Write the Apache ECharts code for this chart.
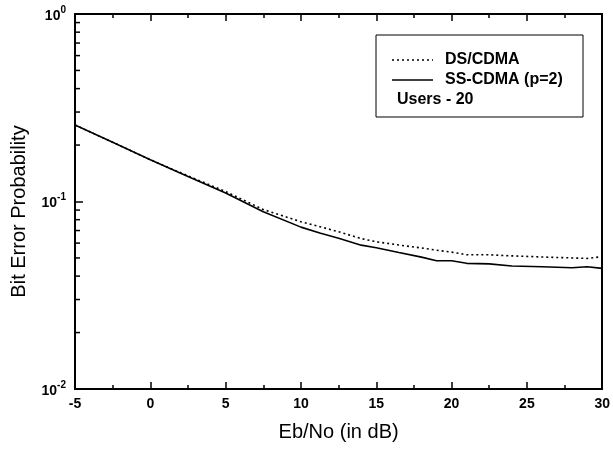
<!DOCTYPE html>
<html>
<head>
<meta charset="utf-8">
<script src="https://cdn.jsdelivr.net/npm/echarts@6/dist/echarts.min.js"></script>
<style>
  html, body { margin: 0; padding: 0; background: #fff; }
  #chart { width: 613px; height: 449px; }
</style>
</head>
<body>
<div id="chart"></div>
<script>
// Eb/No 取样点 (dB)
const ebNo = [-5, -2.5, 0, 2.5, 5, 7.5, 10, 11.25, 12.5, 14, 15, 16.5, 18, 19, 20, 21, 22.5, 24, 26, 28, 29, 30];
// DS/CDMA（虚线）
const dsCdma = [0.256, 0.207, 0.167, 0.137, 0.113, 0.0906, 0.078, 0.0734, 0.069, 0.0634, 0.061, 0.0586, 0.0565, 0.055, 0.0537, 0.052, 0.052, 0.0513, 0.0506, 0.05, 0.0497, 0.0508];
// SS-CDMA (p=2)（实线）
const ssCdma = [0.256, 0.207, 0.167, 0.136, 0.111, 0.0882, 0.073, 0.068, 0.0636, 0.0585, 0.0567, 0.0535, 0.0505, 0.0483, 0.0483, 0.0468, 0.0465, 0.0453, 0.0449, 0.0443, 0.0449, 0.044];
// y 轴次刻度
const yMinorTicks = [0.02, 0.03, 0.04, 0.05, 0.06, 0.07, 0.08, 0.09, 0.2, 0.3, 0.4, 0.5, 0.6, 0.7, 0.8, 0.9];

const toPairs = (xs, ys) => xs.map((x, i) => [x, ys[i]]);

const chart = echarts.init(document.getElementById('chart'));
const font = 'Liberation Sans, Arial, sans-serif';
const legendText = { fontFamily: font, fontSize: 16, fontWeight: 'bold', fill: '#000' };

chart.setOption({
  animation: false,
  grid: { left: 75, right: 10, top: 14, bottom: 60 },
  xAxis: [
    {
      type: 'value', min: -5, max: 30, interval: 5,
      name: 'Eb/No (in dB)', nameLocation: 'middle', nameGap: 33,
      nameTextStyle: { fontFamily: font, fontSize: 20, color: '#000' },
      axisLine: { onZero: false, lineStyle: { color: '#000', width: 2 } },
      axisTick: { inside: true, length: 7, lineStyle: { color: '#000', width: 1.5 } },
      minorTick: { show: true, splitNumber: 2, length: 4, lineStyle: { color: '#000', width: 1.5 } },
      axisLabel: { margin: 8, fontFamily: font, fontSize: 14, fontWeight: 'bold', color: '#000' },
      splitLine: { show: false }
    },
    {
      type: 'value', min: -5, max: 30, interval: 5, position: 'top',
      axisLine: { onZero: false, lineStyle: { color: '#000', width: 2 } },
      axisTick: { inside: true, length: 7, lineStyle: { color: '#000', width: 1.5 } },
      minorTick: { show: true, splitNumber: 2, length: 4, lineStyle: { color: '#000', width: 1.5 } },
      axisLabel: { show: false },
      splitLine: { show: false }
    }
  ],
  yAxis: [
    {
      type: 'log', logBase: 10, min: 0.01, max: 1,
      name: 'Bit Error Probability', nameLocation: 'middle', nameGap: 46,
      nameTextStyle: { fontFamily: font, fontSize: 20, color: '#000', padding: [0, 20, 0, 0] },
      axisLine: { onZero: false, lineStyle: { color: '#000', width: 2 } },
      axisTick: { inside: true, length: 8, lineStyle: { color: '#000', width: 1.5 } },
      axisLabel: {
        margin: 9, color: '#000',
        formatter: v => '{b|10}{s|' + Math.round(Math.log10(v)) + '}',
        rich: {
          b: { fontFamily: font, fontSize: 14, fontWeight: 'bold', color: '#000', lineHeight: 18, verticalAlign: 'bottom' },
          s: { fontFamily: font, fontSize: 10, fontWeight: 'bold', color: '#000', lineHeight: 18, verticalAlign: 'top' }
        }
      },
      splitLine: { show: false }
    },
    {
      type: 'log', logBase: 10, min: 0.01, max: 1, position: 'right',
      axisLine: { onZero: false, lineStyle: { color: '#000', width: 2 } },
      axisTick: { show: false },
      axisLabel: { show: false },
      splitLine: { show: false }
    }
  ],
  // 图例手动绘制（框 + 线样 + 文字）
  graphic: [
    { type: 'rect', shape: { x: 376, y: 35, width: 207, height: 82 }, style: { fill: 'none', stroke: '#000', lineWidth: 1 } },
    { type: 'line', shape: { x1: 392, y1: 60, x2: 433, y2: 60 }, style: { stroke: '#000', lineWidth: 1.4, lineDash: [2, 3] } },
    { type: 'line', shape: { x1: 392, y1: 80, x2: 433, y2: 80 }, style: { stroke: '#000', lineWidth: 1.4 } },
    { type: 'text', x: 445, y: 60, style: Object.assign({ text: 'DS/CDMA', verticalAlign: 'middle' }, legendText) },
    { type: 'text', x: 445, y: 80, style: Object.assign({ text: 'SS-CDMA (p=2)', verticalAlign: 'middle' }, legendText) },
    { type: 'text', x: 397, y: 100, style: Object.assign({ text: 'Users - 20', verticalAlign: 'middle' }, legendText) }
  ],
  series: [
    {
      name: 'DS/CDMA', type: 'line', data: toPairs(ebNo, dsCdma),
      showSymbol: false, symbol: 'none',
      lineStyle: { color: '#000', width: 1.6, type: [2, 3] }
    },
    {
      name: 'SS-CDMA (p=2)', type: 'line', data: toPairs(ebNo, ssCdma),
      showSymbol: false, symbol: 'none',
      lineStyle: { color: '#000', width: 1.6 }
    },
    {
      // y 轴次刻度线
      type: 'custom', silent: true, clip: false,
      data: yMinorTicks.map(v => [-5, v]),
      renderItem: (params, api) => {
        const p = api.coord([api.value(0), api.value(1)]);
        return { type: 'line', shape: { x1: p[0], y1: p[1], x2: p[0] + 5, y2: p[1] }, style: { stroke: '#000', lineWidth: 1.5 } };
      }
    }
  ]
});
</script>
</body>
</html>
